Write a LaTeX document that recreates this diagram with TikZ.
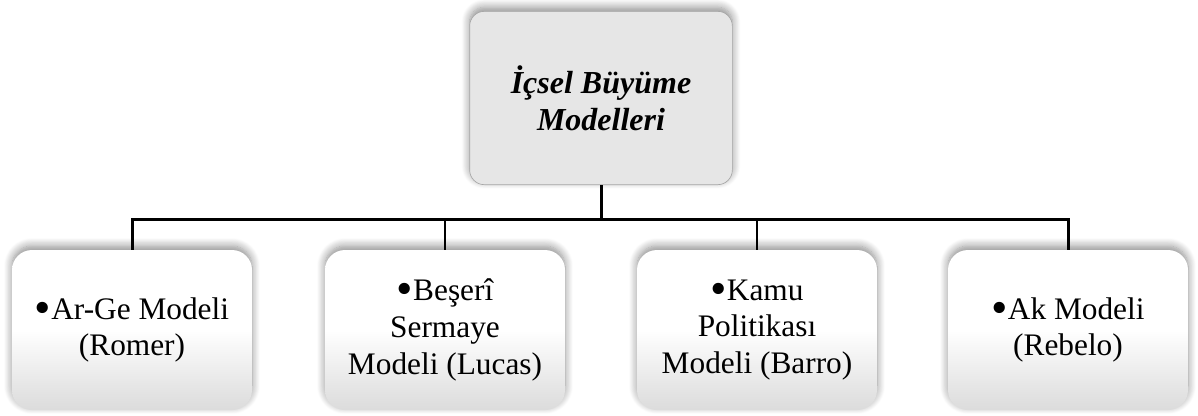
\documentclass[tikz,border=0pt]{standalone}
\usepackage{fontspec}
\usepackage{graphicx}
\setmainfont{Liberation Serif}
\usetikzlibrary{positioning,shadows.blur}
\definecolor{rootgray}{HTML}{E6E6E6}
\definecolor{edgegray}{HTML}{A6A6A6}
\newcommand{\dotmark}{\raisebox{-0.13em}{\scalebox{1.5}{•}}}
\tikzset{
	softshadow/.style={blur shadow={shadow xshift=0pt, shadow yshift=3pt, shadow blur radius=6pt, shadow blur steps=10, shadow opacity=45}},
	rootbox/.style={rounded corners=11pt, fill=rootgray, draw=edgegray, line width=0.5pt, softshadow,
		minimum width=197pt, minimum height=130pt, align=center, inner sep=0pt,
		font=\fontsize{24}{27.5}\selectfont\bfseries\itshape},
	modelbox/.style={rounded corners=15pt, top color=white, bottom color=black!14, middle color=white, softshadow,
		minimum width=180pt, minimum height=120pt, align=center, inner sep=0pt,
		font=\fontsize{23.5}{27.5}\selectfont},
	bar/.style={line width=2.25pt, line join=miter},
	stub/.style={line width=1.5pt}
}
\begin{document}
\begin{tikzpicture}[x=0.75pt, y=-0.75pt]
	\useasboundingbox (0,0) rectangle (1198,415);
	\def\boxy{330}
	\node[rootbox] (root) at (601,98) {İçsel Büyüme\\Modelleri};
	\node[modelbox] (romer)  at (132,\boxy)  {\dotmark Ar-Ge Modeli\\(Romer)};
	\node[modelbox] (lucas)  at (445,\boxy)  {\dotmark Beşerî\\Sermaye\\Modeli (Lucas)};
	\node[modelbox] (barro)  at (757,\boxy)  {\dotmark Kamu\\Politikası\\Modeli (Barro)};
	\node[modelbox] (rebelo) at (1068,\boxy) {\dotmark Ak Modeli\\(Rebelo)};
	% connectors
	\coordinate (bus) at (600,219);
	\draw[bar] (root.south) -- (root.south |- bus);
	\draw[bar] (romer.north) |- (bus) -| (rebelo.north);
	\draw[stub] (lucas.north) -- (lucas.north |- bus);
	\draw[stub] (barro.north) -- (barro.north |- bus);
\end{tikzpicture}
\end{document}
